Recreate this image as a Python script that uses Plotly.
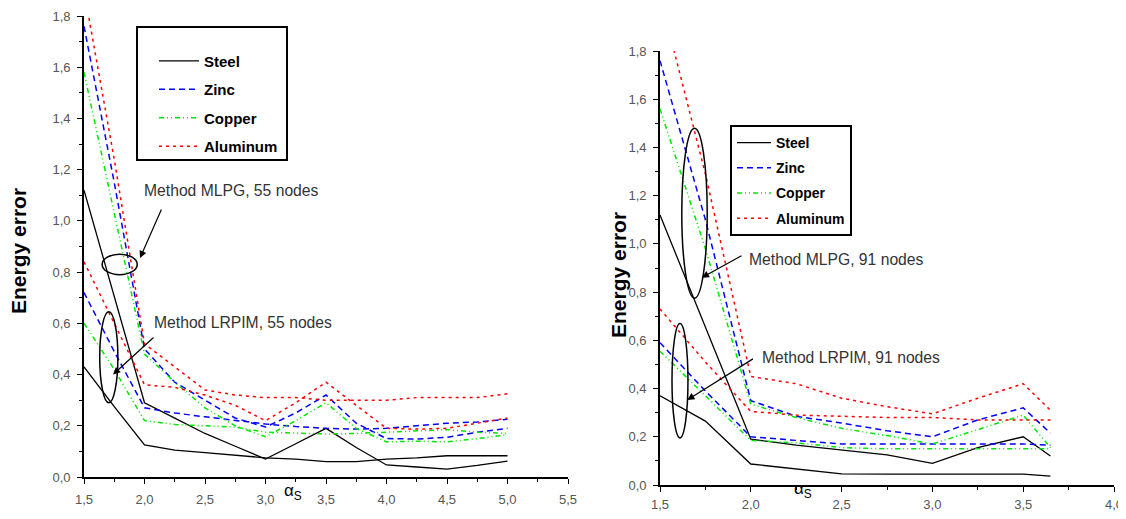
import plotly.graph_objects as go

# ---------------- data: left panel (55 nodes) ----------------
x_55 = [1.5, 1.75, 2.0, 2.25, 2.5, 2.75, 3.0, 3.25, 3.5, 3.75, 4.0, 4.25, 4.5, 4.75, 5.0]
steel_mlpg_55 = [1.12, 0.70, 0.29, 0.23, 0.17, 0.12, 0.07, 0.13, 0.19, 0.115, 0.047, 0.039, 0.031, 0.045, 0.062]
steel_lrpim_55 = [0.43, 0.275, 0.125, 0.105, 0.095, 0.085, 0.075, 0.07, 0.06, 0.06, 0.07, 0.075, 0.083, 0.083, 0.083]
zinc_mlpg_55 = [1.76, 1.15, 0.50, 0.37, 0.30, 0.23, 0.195, 0.25, 0.32, 0.21, 0.15, 0.148, 0.155, 0.175, 0.19]
zinc_lrpim_55 = [0.72, 0.49, 0.27, 0.25, 0.235, 0.22, 0.207, 0.197, 0.19, 0.187, 0.19, 0.20, 0.21, 0.215, 0.225]
copper_mlpg_55 = [1.58, 1.03, 0.48, 0.37, 0.27, 0.20, 0.157, 0.22, 0.29, 0.19, 0.137, 0.14, 0.137, 0.15, 0.165]
copper_lrpim_55 = [0.60, 0.42, 0.22, 0.205, 0.20, 0.195, 0.175, 0.172, 0.168, 0.17, 0.175, 0.18, 0.185, 0.175, 0.17]
alum_mlpg_55 = [1.9, 1.24, 0.52, 0.43, 0.34, 0.32, 0.31, 0.31, 0.30, 0.30, 0.30, 0.31, 0.31, 0.31, 0.325]
alum_lrpim_55 = [0.84, 0.60, 0.36, 0.35, 0.32, 0.28, 0.22, 0.29, 0.37, 0.28, 0.19, 0.187, 0.19, 0.21, 0.23]

# ---------------- data: right panel (91 nodes) ----------------
x_91 = [1.5, 1.75, 2.0, 2.25, 2.5, 2.75, 3.0, 3.25, 3.5, 3.65]
steel_mlpg_91 = [1.12, 0.655, 0.19, 0.165, 0.145, 0.125, 0.09, 0.155, 0.2, 0.12]
steel_lrpim_91 = [0.37, 0.265, 0.087, 0.065, 0.046, 0.045, 0.045, 0.045, 0.045, 0.037]
zinc_mlpg_91 = [1.76, 1.10, 0.35, 0.285, 0.257, 0.225, 0.20, 0.27, 0.32, 0.215]
zinc_lrpim_91 = [0.59, 0.39, 0.20, 0.185, 0.17, 0.17, 0.17, 0.17, 0.17, 0.165]
copper_mlpg_91 = [1.56, 0.98, 0.335, 0.28, 0.235, 0.205, 0.17, 0.23, 0.29, 0.155]
copper_lrpim_91 = [0.555, 0.37, 0.185, 0.175, 0.155, 0.15, 0.15, 0.15, 0.15, 0.15]
alum_mlpg_91 = [2.03, 1.29, 0.45, 0.42, 0.36, 0.325, 0.295, 0.36, 0.42, 0.31]
alum_lrpim_91 = [0.73, 0.51, 0.305, 0.29, 0.285, 0.28, 0.28, 0.27, 0.27, 0.27]

materials = ["Steel", "Zinc", "Copper", "Aluminum"]
colors = {"Steel": "#000000", "Zinc": "#0000FF", "Copper": "#00E600", "Aluminum": "#FF0000"}
dashes = {"Steel": "solid", "Zinc": "6px,4px", "Copper": "5px,3px,1px,3px,1px,3px", "Aluminum": "3px,4px"}

# annotation geometry (data coordinates)
ell_55 = [(1.65, 1.94, 0.79, 0.87), (1.63, 1.78, 0.29, 0.645)]
arr_55 = [((2.145, 1.05), (1.963, 0.855)), ((2.087, 0.55), (1.74, 0.40))]
txt_55 = [(1.98, 1.12, "Method MLPG, 55 nodes"), (2.06, 0.605, "Method LRPIM, 55 nodes")]
ell_91 = [(1.62, 1.76, 0.775, 1.48), (1.566, 1.654, 0.195, 0.67)]
arr_91 = [((1.957, 0.954), (1.73, 0.86)), ((2.02, 0.527), (1.65, 0.353))]
txt_91 = [(1.98, 0.934, "Method MLPG, 91 nodes"), (2.05, 0.527, "Method LRPIM, 91 nodes")]

FONT = "Arial, Liberation Sans, sans-serif"

# page offset (browser body margin) and figure size
OFF = 8
W, H = 1126 - OFF, 519 - OFF


def fx(px):
    return (px - OFF) / W


def fy(py):
    return 1 - (py - OFF) / H


fig = go.Figure()

panel_data = [
    ("x", "y", "legend", x_55,
     {"Steel": (steel_mlpg_55, steel_lrpim_55), "Zinc": (zinc_mlpg_55, zinc_lrpim_55),
      "Copper": (copper_mlpg_55, copper_lrpim_55), "Aluminum": (alum_mlpg_55, alum_lrpim_55)}),
    ("x2", "y2", "legend2", x_91,
     {"Steel": (steel_mlpg_91, steel_lrpim_91), "Zinc": (zinc_mlpg_91, zinc_lrpim_91),
      "Copper": (copper_mlpg_91, copper_lrpim_91), "Aluminum": (alum_mlpg_91, alum_lrpim_91)}),
]

for xa, ya, leg, xs, d in panel_data:
    for m in materials:
        mlpg, lrpim = d[m]
        for i, ys in enumerate((mlpg, lrpim)):
            fig.add_trace(go.Scatter(
                x=xs, y=ys, mode="lines", name=m, xaxis=xa, yaxis=ya,
                legend=leg, legendgroup=m + leg, showlegend=(i == 0),
                line=dict(color=colors[m], dash=dashes[m], width=1.3 if m == "Steel" else 1.5),
                hoverinfo="skip"))

# ellipses, arrows, texts
for xr, yr, ells, arrs, txts in (("x", "y", ell_55, arr_55, txt_55), ("x2", "y2", ell_91, arr_91, txt_91)):
    for (x0, x1, y0, y1) in ells:
        fig.add_shape(type="circle", xref=xr, yref=yr, x0=x0, x1=x1, y0=y0, y1=y1,
                      line=dict(color="black", width=1.5))
    for (tail, tip) in arrs:
        fig.add_annotation(xref=xr, yref=yr, axref=xr, ayref=yr, x=tip[0], y=tip[1],
                           ax=tail[0], ay=tail[1], text="", showarrow=True,
                           arrowhead=2, arrowsize=1.2, arrowwidth=1.2, arrowcolor="black")
    for (tx, ty, t) in txts:
        fig.add_annotation(xref=xr, yref=yr, x=tx, y=ty, text=t, showarrow=False,
                           xanchor="left", yanchor="middle",
                           font=dict(family=FONT, size=15.7, color="#333333"))

# left legend frame (box drawn as a shape, legend placed inside it)
fig.add_shape(type="rect", xref="paper", yref="paper", x0=fx(137), x1=fx(287), y0=fy(160), y1=fy(27),
              line=dict(color="black", width=2), fillcolor="white", layer="above")

# axis titles
for px, py in ((18, 251), (618, 275)):
    fig.add_annotation(xref="paper", yref="paper", x=fx(px), y=fy(py), xanchor="center", yanchor="middle",
                       text="<b>Energy error</b>", textangle=-90, showarrow=False,
                       font=dict(family=FONT, size=21, color="black"))
fig.add_annotation(xref="x", yref="paper", x=3.227, y=fy(505), text="α<sub>S</sub>",
                   showarrow=False, font=dict(family=FONT, size=17, color="black"))
fig.add_annotation(xref="x2", yref="paper", x=2.29, y=fy(503), text="α<sub>S</sub>",
                   showarrow=False, font=dict(family=FONT, size=17, color="black"))

tickfont = dict(family=FONT, size=13, color="#555555")
common = dict(showline=True, linecolor="black", linewidth=1.6, ticks="outside", ticklen=5,
              tickwidth=1.3, tickcolor="black", showgrid=False, zeroline=False,
              tickfont=tickfont, mirror=False, automargin=False)

fig.update_layout(
    width=W, height=H, margin=dict(l=0, r=0, t=0, b=0),
    paper_bgcolor="white", plot_bgcolor="white", separators=", ",
    font=dict(family=FONT),
    xaxis=dict(domain=[fx(84), fx(568)], range=[1.5, 5.5], tick0=1.5, dtick=0.5,
               tickformat=".1f", anchor="y", ticklabelstandoff=5,
               minor=dict(ticks="outside", ticklen=3, dtick=0.25, tickcolor="black"), **common),
    yaxis=dict(domain=[fy(477), fy(16)], range=[0, 1.8], dtick=0.2,
               tickformat=".1f", anchor="x", ticklabelstandoff=4,
               minor=dict(ticks="outside", ticklen=3, dtick=0.1, tickcolor="black"), **common),
    xaxis2=dict(domain=[fx(660), fx(1114)], range=[1.5, 4.0], tick0=1.5, dtick=0.5,
                tickformat=".1f", anchor="y2", ticklabelstandoff=2,
                minor=dict(ticks="outside", ticklen=3, dtick=0.25, tickcolor="black"), **common),
    yaxis2=dict(domain=[fy(485), fy(51)], range=[0, 1.8], dtick=0.2,
                tickformat=".1f", anchor="x2", ticklabelstandoff=4,
                minor=dict(ticks="outside", ticklen=3, dtick=0.1, tickcolor="black"), **common),
    legend=dict(x=fx(154), y=fy(29), xanchor="left", yanchor="top",
                borderwidth=0, bgcolor="rgba(0,0,0,0)",
                traceorder="grouped", tracegroupgap=6, itemwidth=40,
                title=dict(text=" ", font=dict(size=12)),
                font=dict(family=FONT, size=15, color="black", weight="bold")),
    legend2=dict(x=fx(730), y=fy(125), xanchor="left", yanchor="top",
                 bordercolor="black", borderwidth=2, bgcolor="white",
                 traceorder="grouped", tracegroupgap=4, itemwidth=34,
                 font=dict(family=FONT, size=14, color="black", weight="bold")),
    showlegend=True,
)

fig.write_html("out.html")
